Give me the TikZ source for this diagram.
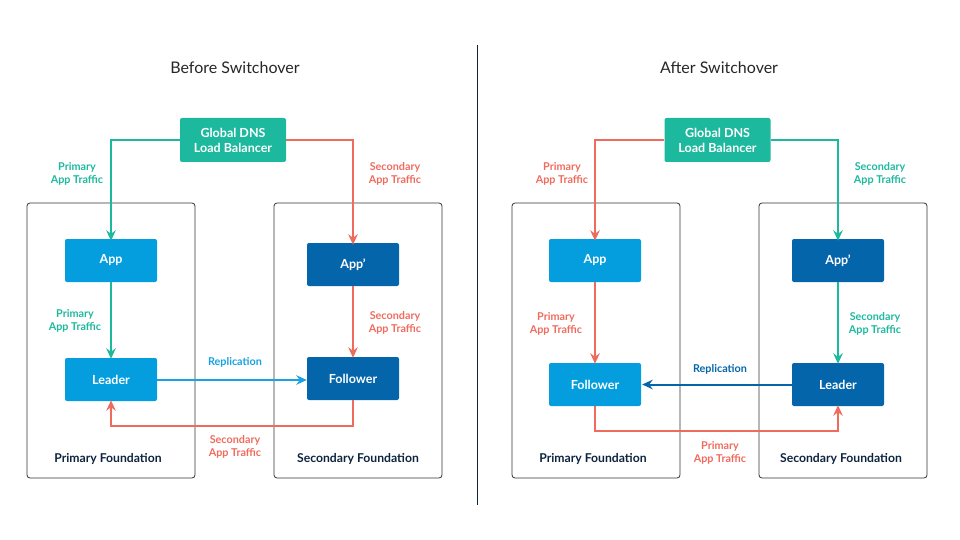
\documentclass[tikz,border=0pt]{standalone}
\usepackage{fontspec}
\setmainfont{Lato}
\usetikzlibrary{arrows.meta}
\definecolor{teal}{HTML}{1DB99E}
\definecolor{salmon}{HTML}{EF6B5D}
\definecolor{lblue}{HTML}{049EDF}
\definecolor{dblue}{HTML}{0465AA}
\definecolor{navy}{HTML}{0D2340}
\definecolor{repl}{HTML}{17A2E0}
\tikzset{
  comp/.style={rectangle, rounded corners=2pt, minimum width=92pt, minimum height=43pt, text=white, font=\fontsize{12.5}{14}\selectfont\bfseries, inner sep=0pt},
  dns/.style={comp, fill=teal, minimum width=106pt, minimum height=44pt, align=center, font=\fontsize{12.5}{15}\selectfont\bfseries},
  found/.style={rectangle, draw=black!80, line width=0.8pt, rounded corners=3pt, minimum width=168pt, minimum height=275pt, inner sep=0pt},
  lbl/.style={align=center, font=\fontsize{10.8}{13}\selectfont\bfseries, inner sep=0pt},
  flab/.style={text=navy, font=\fontsize{12.2}{14}\selectfont\bfseries, inner sep=0pt},
  ttl/.style={text=black!85, font=\fontsize{16}{18}\selectfont, inner sep=0pt},
  arr/.style={line width=2pt, -{Stealth[length=10.5pt, width=9.5pt, inset=3.5pt]}},
}
\begin{document}
\begin{tikzpicture}[x=1pt, y=-1pt]
\useasboundingbox (0,0) rectangle (960,540);
% divider
\draw[navy, line width=1pt] (477,45) -- (477,505);
% ---------- Left panel ----------
\node[ttl] (t1) at (235,68) {Before Switchover};
\node[found] (pf1) at (111,340.5) {};
\node[found] (sf1) at (358,340.5) {};
\node[dns] (dns1) at (233,140) {Global DNS\\Load Balancer};
\node[comp, fill=lblue] (app1) at (111,260.5) {App};
\node[comp, fill=dblue] (appp1) at (353,264.5) {App'};
\node[comp, fill=lblue] (lead1) at (111,379.5) {Leader};
\node[comp, fill=dblue] (fol1) at (353,378.5) {Follower};
\draw[arr, teal] (dns1.west) -| ([yshift=-2pt]app1.north);
\draw[arr, salmon] (dns1.east) -| ([yshift=-2pt]appp1.north);
\draw[arr, teal] (app1.south) -- ([yshift=-1pt]lead1.north);
\draw[arr, salmon] (appp1.south) -- ([yshift=-1pt]fol1.north);
\draw[arr, repl] (lead1.east |- 0,380) -- (fol1.west |- 0,380);
\coordinate (b1) at (353,426);
\draw[arr, salmon] (fol1.south) -- (b1) -| ([yshift=1pt]lead1.south);
\node[lbl, text=teal] (l1) at (77,173.5) {Primary\\App Traffic};
\node[lbl, text=salmon] (l2) at (395,173.5) {Secondary\\App Traffic};
\node[lbl, text=teal] (l3) at (75,320.5) {Primary\\App Traffic};
\node[lbl, text=salmon] (l4) at (395,322.5) {Secondary\\App Traffic};
\node[lbl, text=repl] (l5) at (235,362) {Replication};
\node[lbl, text=salmon] (l6) at (235,446.5) {Secondary\\App Traffic};
\node[flab] (fl1) at (108,459) {Primary Foundation};
\node[flab] (fl2) at (358,459) {Secondary Foundation};
% ---------- Right panel ----------
\node[ttl] (t2) at (719,68) {After Switchover};
\node[found] (pf2) at (596,340.5) {};
\node[found] (sf2) at (843,340.5) {};
\node[dns] (dns2) at (717.5,140) {Global DNS\\Load Balancer};
\node[comp, fill=lblue] (app2) at (595,260.5) {App};
\node[comp, fill=dblue] (appp2) at (838,260.5) {App'};
\node[comp, fill=lblue] (fol2) at (595,384.5) {Follower};
\node[comp, fill=dblue] (lead2) at (838,384.5) {Leader};
\draw[arr, salmon] (dns2.west) -| ([yshift=-2pt]app2.north);
\draw[arr, teal] (dns2.east) -| ([yshift=-2pt]appp2.north);
\draw[arr, salmon] (app2.south) -- ([yshift=-1pt]fol2.north);
\draw[arr, teal] (appp2.south) -- ([yshift=-1pt]lead2.north);
\draw[arr, dblue] (lead2.west) -- ([xshift=1pt]fol2.east);
\coordinate (b2) at (595,431);
\draw[arr, salmon] (fol2.south) -- (b2) -| ([yshift=1pt]lead2.south);
\node[lbl, text=salmon] (r1) at (562,173.5) {Primary\\App Traffic};
\node[lbl, text=teal] (r2) at (880,173.5) {Secondary\\App Traffic};
\node[lbl, text=salmon] (r3) at (556,323.5) {Primary\\App Traffic};
\node[lbl, text=teal] (r4) at (875,323.5) {Secondary\\App Traffic};
\node[lbl, text=dblue] (r5) at (720,369) {Replication};
\node[lbl, text=salmon] (r6) at (720,452.5) {Primary\\App Traffic};
\node[flab] (fr1) at (593,459) {Primary Foundation};
\node[flab] (fr2) at (841,459) {Secondary Foundation};
\end{tikzpicture}
\end{document}
